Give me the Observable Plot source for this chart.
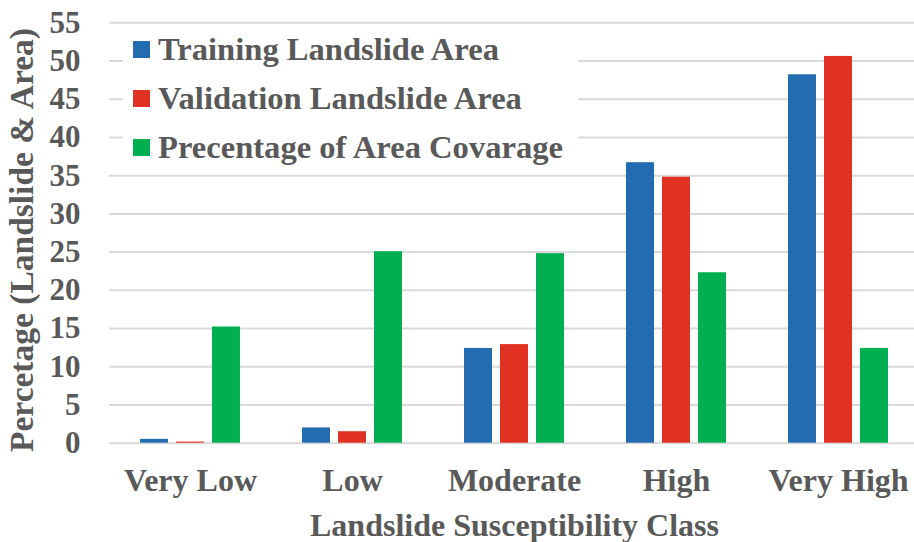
<!DOCTYPE html>
<html>
<head>
<meta charset="utf-8">
<script src="https://cdn.jsdelivr.net/npm/d3@7"></script>
<script src="https://cdn.jsdelivr.net/npm/@observablehq/plot@0.6"></script>
<style>
  html, body { margin: 0; padding: 0; background: #fff; }
  #wrap { position: relative; width: 914px; height: 542px; overflow: hidden; font-family: "Liberation Serif", "Times New Roman", serif; }
  #legend { position: absolute; left: 123px; top: 27px; width: 455px; height: 143px; background: #fff; }
  .item { position: absolute; left: 10px; height: 40px; display: flex; align-items: center; font-weight: bold; font-size: 32.6px; color: #595959; white-space: nowrap; }
  .sw { width: 17px; height: 17px; margin-right: 8px; flex: none; }
</style>
</head>
<body>
<div id="wrap"></div>
<script>
const categories = ["Very Low", "Low", "Moderate", "High", "Very High"];
const seriesNames = ["Training Landslide Area", "Validation Landslide Area", "Precentage of Area Covarage"];
const seriesColors = ["#236cb0", "#e03122", "#00b050"];
const training = [0.5, 2.0, 12.4, 36.7, 48.2];
const validation = [0.15, 1.5, 12.9, 34.8, 50.6];
const coverage = [15.2, 25.05, 24.8, 22.3, 12.4];
const yTicks = [0, 5, 10, 15, 20, 25, 30, 35, 40, 45, 50, 55];
const yTitle = "Percetage (Landslide & Area)";
const xTitle = "Landslide Susceptibility Class";

const seriesValues = [training, validation, coverage];
const data = [];
categories.forEach((c, i) => {
  seriesNames.forEach((s, j) => data.push({category: c, series: s, value: seriesValues[j][i]}));
});

const textColor = "#595959";
const chart = Plot.plot({
  width: 914,
  height: 542,
  marginLeft: 109,
  marginRight: -5,
  marginTop: 22.3,
  marginBottom: 99.3,
  style: {fontFamily: "Liberation Serif, Times New Roman, serif", fontWeight: "bold", color: textColor, background: "#fff"},
  fx: {domain: categories, padding: 0, label: null},
  x: {domain: seriesNames, paddingInner: 0.222, paddingOuter: 0.861, axis: null},
  y: {domain: [0, 55], ticks: yTicks, label: null},
  color: {domain: seriesNames, range: seriesColors},
  marks: [
    Plot.gridY(yTicks, {stroke: "#d9d9d9", strokeOpacity: 1, strokeWidth: 2}),
    Plot.barY(data, {fx: "category", x: "series", y: "value", fill: "series"}),
    Plot.axisY(yTicks, {tickSize: 0, tickPadding: 29, fontSize: 31, fill: textColor, fontWeight: "bold", label: null}),
    Plot.axisFx({anchor: "bottom", tickSize: 0, tickPadding: 25, fontSize: 32, fill: textColor, fontWeight: "bold",
      label: xTitle, labelArrow: "none", labelAnchor: "center", labelOffset: 93})
  ]
});
chart.querySelectorAll("text").forEach(t => { t.style.fill = textColor; });

// y-axis title
d3.select(chart).append("text")
  .attr("transform", "translate(33,240) rotate(-90)")
  .attr("text-anchor", "middle")
  .attr("font-family", "Liberation Serif, Times New Roman, serif")
  .attr("font-weight", "bold")
  .attr("font-size", 33.5)
  .style("fill", textColor)
  .text(yTitle);

const wrap = document.getElementById("wrap");
wrap.appendChild(chart);

const legend = document.createElement("div");
legend.id = "legend";
seriesNames.forEach((s, j) => {
  const it = document.createElement("div");
  it.className = "item";
  it.style.top = (2 + j * 49) + "px";
  const sw = document.createElement("span");
  sw.className = "sw";
  sw.style.background = seriesColors[j];
  it.appendChild(sw);
  it.appendChild(document.createTextNode(s));
  legend.appendChild(it);
});
wrap.appendChild(legend);
</script>
</body>
</html>
